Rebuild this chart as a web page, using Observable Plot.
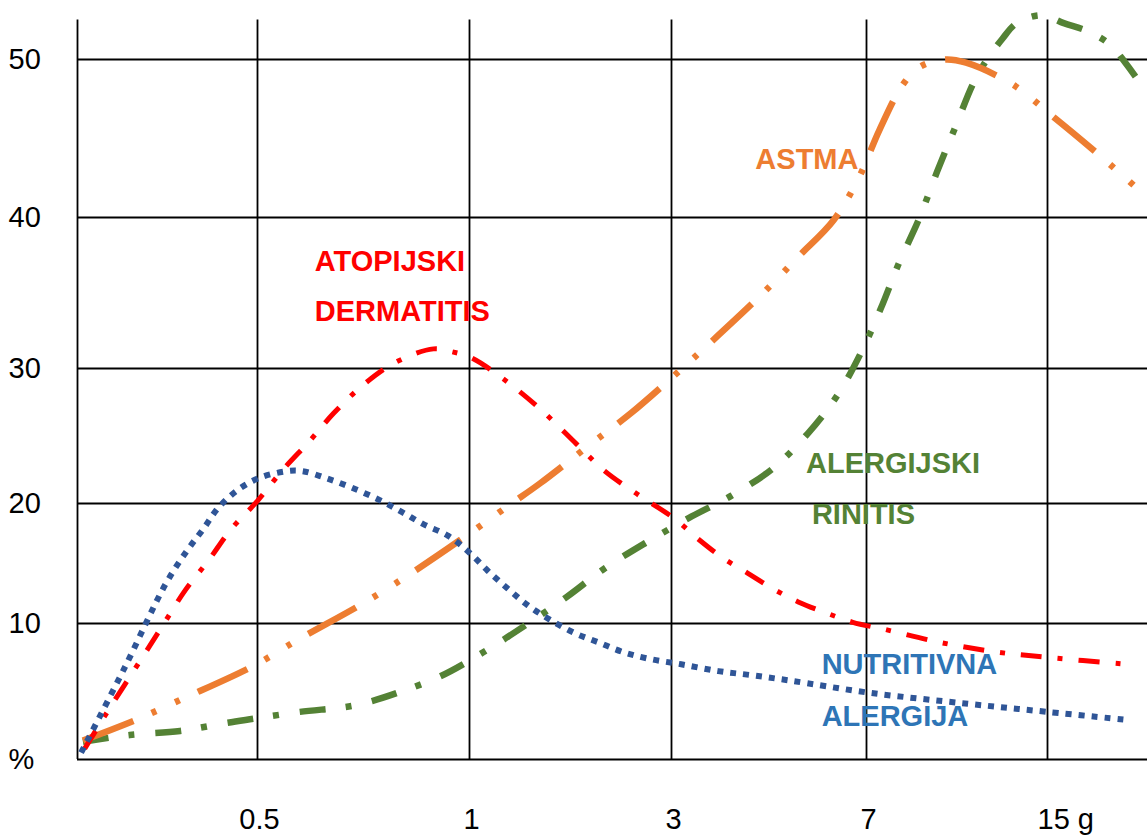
<!DOCTYPE html>
<html><head><meta charset="utf-8">
<script src="https://cdn.jsdelivr.net/npm/d3@7"></script>
<script src="https://cdn.jsdelivr.net/npm/@observablehq/plot@0.6"></script>
<style>
html,body{margin:0;padding:0;background:#fff;}
#chart svg{display:block;}
</style></head><body><div id="chart"></div>
<script>
// ---- data (x in tick-index units: 1 = "0.5", 2 = "1", 3 = "3", 4 = "7", 5 = "15 g"; y in %) ----
const xTicks = [1, 2, 3, 4, 5];
const xTickLabels = ["0.5", "1", "3", "7", "15 g"];
const yTicks = [0, 10, 20, 30, 40, 50];
const yTickLabels = ["%", "10", "20", "30", "40", "50"];

const dermatitisX = [0.04,0.18,0.36,0.48,0.60,0.73,0.85,1.00,1.12,1.25,1.36,1.50,1.65,1.83,1.92,2.01,2.17,2.35,2.53,2.67,2.83,3.01,3.14,3.26,3.39,3.52,3.65,3.79,3.93,4.09,4.41,4.72,5.01,5.44];
const dermatitisY = [0.8,3.8,7.5,10.0,12.8,15.3,17.8,20.2,22.5,24.7,26.7,28.8,30.4,31.3,31.1,30.7,29.2,27.0,24.4,22.4,20.7,18.8,17.0,15.5,14.2,12.9,11.8,10.9,10.1,9.6,8.6,7.9,7.5,7.0];

const astmaX = [0.03,0.34,0.59,0.98,1.19,1.50,1.70,2.00,2.20,2.35,2.60,2.80,3.00,3.19,3.47,3.65,3.83,3.96,4.07,4.20,4.29,4.43,4.55,4.81,5.04,5.24,5.48];
const astmaY = [1.4,3.0,4.5,6.9,8.8,11.7,13.9,17.5,19.9,21.5,24.4,26.7,29.3,31.6,35.0,37.4,39.8,42.5,45.5,48.4,49.5,50.0,49.8,48.4,46.3,44.4,42.0];

const rinitisX = [0.03,0.29,0.57,0.83,0.98,1.20,1.43,1.54,1.66,1.86,2.07,2.28,2.48,2.67,2.88,3.09,3.31,3.52,3.70,3.85,3.97,4.08,4.18,4.29,4.39,4.49,4.59,4.66,4.75,4.83,4.97,5.09,5.22,5.34,5.43,5.53];
const rinitisY = [1.3,1.8,2.1,2.7,3.0,3.5,3.9,4.3,4.9,6.1,7.9,9.9,12.2,14.6,16.8,18.8,20.6,22.6,25.2,28.0,31.0,34.0,37.0,39.9,42.9,45.7,48.5,49.9,51.3,52.3,52.8,52.3,51.8,51.0,49.8,48.2];

const nutritivnaX = [0.02,0.26,0.49,0.61,0.70,0.78,0.89,1.01,1.14,1.21,1.32,1.44,1.57,1.68,1.78,1.90,2.00,2.09,2.19,2.29,2.40,2.52,2.64,2.76,2.89,3.05,3.24,3.41,3.61,4.02,4.56,5.00,5.45];
const nutritivnaY = [0.5,6.7,13.3,16.1,17.9,19.6,21.0,21.9,22.4,22.4,21.9,21.2,20.3,19.3,18.3,17.3,15.9,14.4,12.9,11.5,10.3,9.3,8.6,7.9,7.4,7.0,6.5,6.2,5.8,4.9,4.1,3.5,2.9];

const seriesNames = ["ALERGIJSKI RINITIS", "ASTMA", "ATOPIJSKI DERMATITIS", "NUTRITIVNA ALERGIJA"];
const seriesX = [rinitisX, astmaX, dermatitisX, nutritivnaX];
const seriesY = [rinitisY, astmaY, dermatitisY, nutritivnaY];

// in-chart labels (one row per text line, anchored at top-left)
const labelText = ["ATOPIJSKI", "DERMATITIS", "ASTMA", "ALERGIJSKI", "RINITIS", "NUTRITIVNA", "ALERGIJA"];
const labelSeries = ["ATOPIJSKI DERMATITIS", "ATOPIJSKI DERMATITIS", "ASTMA", "ALERGIJSKI RINITIS", "ALERGIJSKI RINITIS", "NUTRITIVNA ALERGIJA", "NUTRITIVNA ALERGIJA"];
const labelX = [1.27, 1.27, 3.43, 3.69, 3.72, 3.77, 3.77];
const labelY = [37.8, 34.5, 44.4, 23.8, 20.0, 7.8, 4.0];

// ---- styles ----
const styles = {
  "ATOPIJSKI DERMATITIS": {stroke: "#FF0000", text: "#FF0000", width: 5, dash: "21,16,5,16"},
  "ASTMA": {stroke: "#ED7D31", text: "#ED7D31", width: 6.5, dash: "54,20,5,21,5,20"},
  "ALERGIJSKI RINITIS": {stroke: "#548235", text: "#548235", width: 6.5, dash: "26,20,6,21"},
  "NUTRITIVNA ALERGIJA": {stroke: "#2F5597", text: "#2E75B6", width: 6, dash: "6,7"}
};

// hand-drawn grid: uneven spacing between ticks (warp applied through the scales' transform)
const warpX = d3.scaleLinear().domain([0, 1, 2, 3, 4, 5]).range([0, 180, 392, 594, 789, 970]);
const warpY = d3.scaleLinear().domain([0, 10, 20, 30, 40, 50]).range([0, 136, 256, 391, 542, 700]);

const rows = seriesNames.flatMap((name, k) => seriesX[k].map((x, i) => ({series: name, x, y: seriesY[k][i]})));
const labels = labelText.map((t, i) => ({text: t, series: labelSeries[i], x: labelX[i], y: labelY[i]}));
const font = "'Liberation Sans', Arial, Helvetica, sans-serif";

const chart = Plot.plot({
  width: 1147,
  height: 836,
  marginLeft: 77,
  marginRight: 0,
  marginTop: 59,
  marginBottom: 77,
  style: {fontFamily: font, fontSize: "29px", background: "#fff", overflow: "visible"},
  x: {axis: null, transform: d => warpX(d), domain: [0, 1070]},
  y: {axis: null, transform: d => warpY(d), domain: [0, 700]},
  marks: [
    Plot.ruleY(yTicks, {y: d => d, stroke: "#000", strokeWidth: 1.8}),
    Plot.ruleX([0, ...xTicks], {x: d => d, y1: 0, y2: 52.5, stroke: "#000", strokeWidth: 1.8}),
    ...seriesNames.map(name => Plot.line(rows.filter(r => r.series === name), {
      x: "x", y: "y", curve: "catmull-rom",
      stroke: styles[name].stroke, strokeWidth: styles[name].width,
      strokeDasharray: styles[name].dash, strokeLinecap: "butt"
    })),
    ...seriesNames.map(name => Plot.text(labels.filter(l => l.series === name), {
      x: "x", y: "y", text: "text", textAnchor: "start", lineAnchor: "top",
      fill: styles[name].text, fontWeight: "bold", fontSize: 29
    })),
    Plot.text(yTicks, {y: d => d, text: (d, i) => yTickLabels[i], frameAnchor: "left", textAnchor: "start", dx: -69, lineAnchor: "middle", fontSize: 29, fill: "#000"}),
    Plot.text(xTicks.slice(0, 4), {x: d => d, text: (d, i) => xTickLabels[i], frameAnchor: "bottom", lineAnchor: "top", dy: 49, dx: 2, fontSize: 29, fill: "#000"}),
    Plot.text(xTicks.slice(4), {x: d => d, text: (d, i) => xTickLabels[4 + i], frameAnchor: "bottom", lineAnchor: "top", textAnchor: "start", dy: 49, dx: -10, fontSize: 29, fill: "#000"})
  ]
});
document.getElementById("chart").appendChild(chart);
</script>
</body></html>
